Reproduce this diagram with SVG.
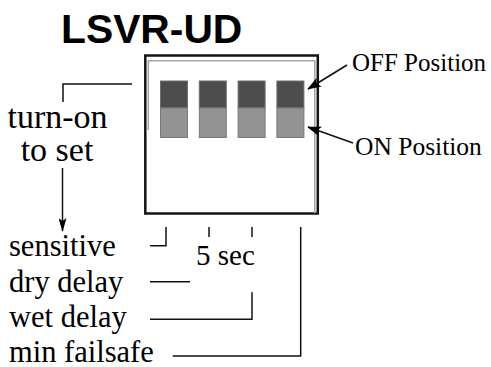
<svg xmlns="http://www.w3.org/2000/svg" width="491" height="367" viewBox="0 0 491 367">
<style>
.t{font-family:"Liberation Serif","Times New Roman",serif;fill:#000}
.ln{fill:none;stroke:#111;stroke-width:1.5}
.off{fill:#4d4d4d;stroke:#6e6e6e;stroke-width:1}
.on{fill:#939393;stroke:#7a7a7a;stroke-width:1}
</style>
<defs>
<marker id="ah" markerWidth="14" markerHeight="10" refX="13" refY="5" orient="auto" markerUnits="userSpaceOnUse">
<path d="M0,0 L14,5 L0,10 L3,5 Z" fill="#000"/>
</marker>
<marker id="ahd" markerWidth="14" markerHeight="8" refX="13" refY="4" orient="auto" markerUnits="userSpaceOnUse">
<path d="M0,0 L14,4 L0,8 L3,4 Z" fill="#000"/>
</marker>
</defs>
<rect width="491" height="367" fill="#fff"/>
<g id="title"><text x="61" y="42.5" font-family="Liberation Sans, Arial, sans-serif" font-weight="bold" font-size="40.8">LSVR-UD</text></g>
<g id="switch-block">
<rect x="145.3" y="55.5" width="172.5" height="158" fill="#fff" stroke="#1a1212" stroke-width="2.5"/>
<path d="M148.3,130 V60.8 H314.8 V213" fill="none" stroke="#a8a8a8" stroke-width="1.6"/>
<rect class="off" x="160.5" y="81" width="27" height="27"/><rect class="on" x="160.5" y="108" width="27" height="29.5"/>
<rect class="off" x="199.3" y="81" width="27" height="27"/><rect class="on" x="199.3" y="108" width="27" height="29.5"/>
<rect class="off" x="238.1" y="81" width="27" height="27"/><rect class="on" x="238.1" y="108" width="27" height="29.5"/>
<rect class="off" x="276.9" y="81" width="27" height="27"/><rect class="on" x="276.9" y="108" width="27" height="29.5"/>
</g>
<g id="off-label"><text class="t" x="352" y="71" font-size="25">OFF Position</text></g>
<g id="on-label"><text class="t" x="355" y="155" font-size="25.5">ON Position</text></g>
<g id="turn-on-label"><text class="t" x="57.5" y="128" font-size="34" text-anchor="middle">turn-on</text><text class="t" x="57" y="161" font-size="34" text-anchor="middle">to set</text></g>
<g id="sensitive"><text class="t" x="9" y="256" font-size="30.5">sensitive</text></g>
<g id="dry-delay"><text class="t" x="9" y="291.5" font-size="30.5">dry delay</text></g>
<g id="wet-delay"><text class="t" x="9" y="327" font-size="30.5">wet delay</text></g>
<g id="min-failsafe"><text class="t" x="9" y="362" font-size="30.5">min failsafe</text></g>
<g id="five-sec"><text class="t" x="196" y="265" font-size="29">5 sec</text></g>
<g id="connectors">
<line x1="347" y1="65" x2="308" y2="89" class="ln" stroke-width="2" marker-end="url(#ah)"/>
<line x1="353" y1="143" x2="308" y2="127" class="ln" stroke-width="2" marker-end="url(#ah)"/>
<path class="ln" d="M63,102 V84 H132"/>
<line x1="62.5" y1="168" x2="62.5" y2="231" class="ln" marker-end="url(#ahd)"/>
<path class="ln" d="M166,227 V245.7 H150"/>
<path class="ln" d="M209,227 V237"/>
<path class="ln" d="M252,227 V237"/>
<path class="ln" d="M150,281.7 H190"/>
<path class="ln" d="M150,319.3 H252 V292.3"/>
<path class="ln" d="M172.7,356 H300.7 V227"/>
</g>
</svg>
